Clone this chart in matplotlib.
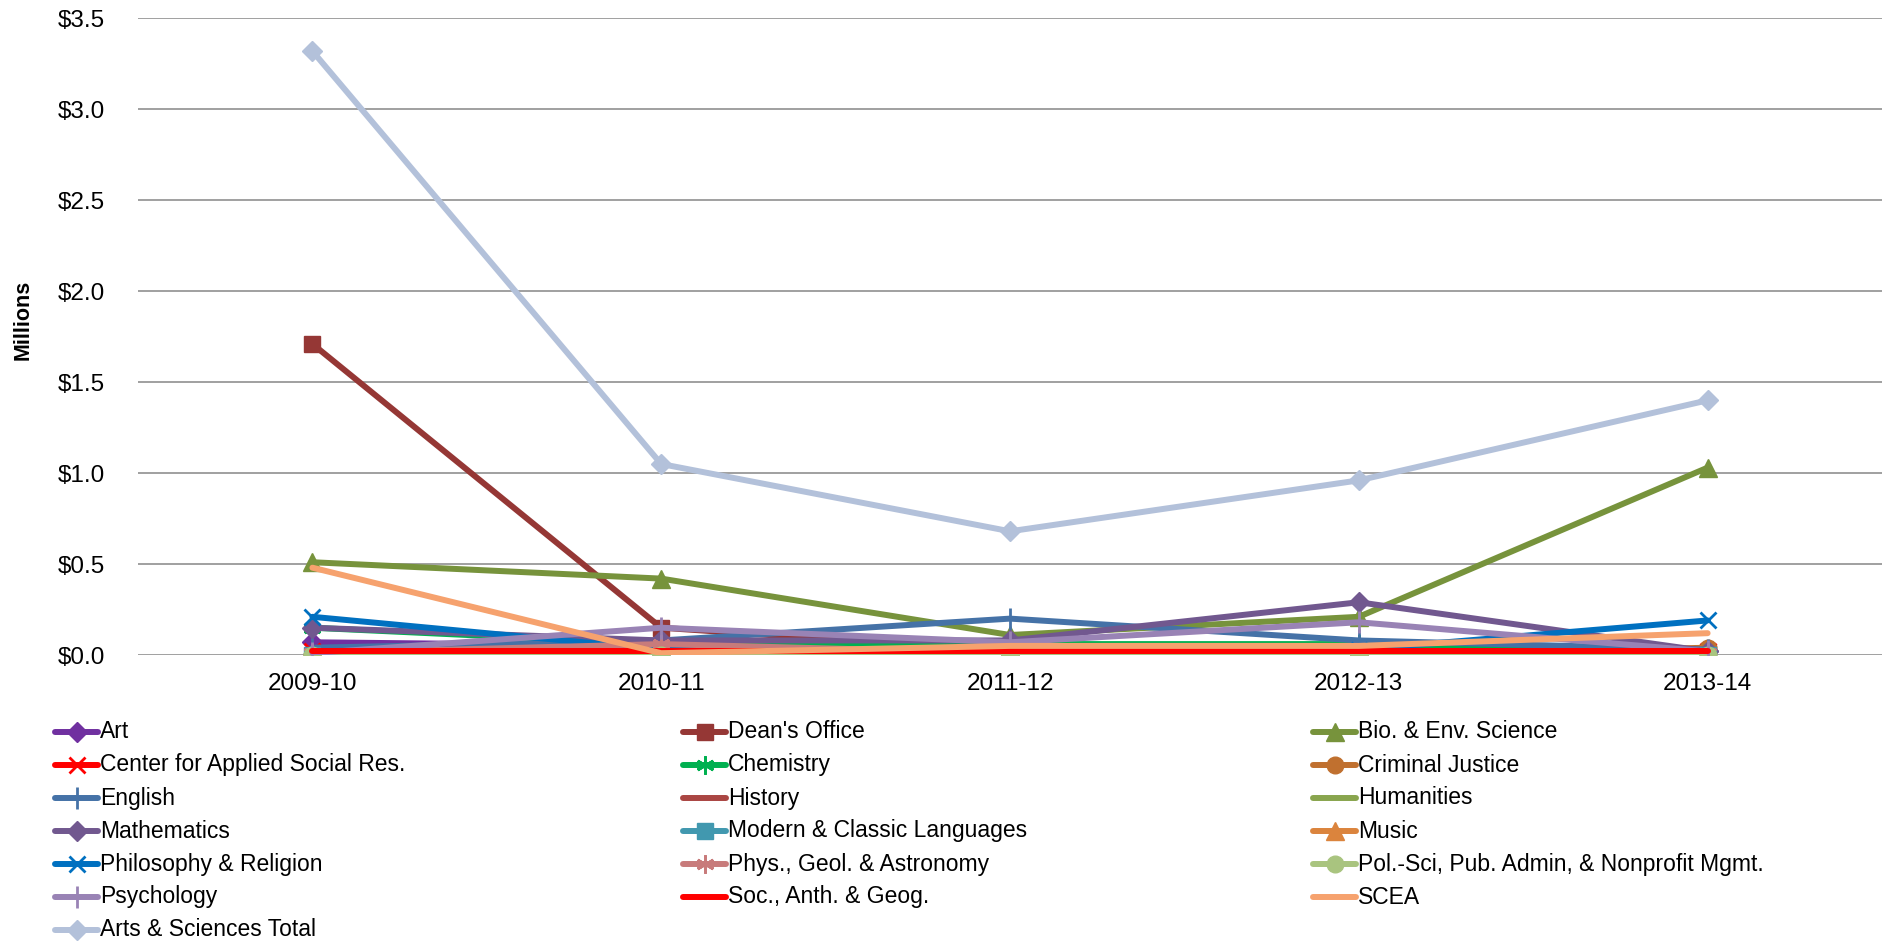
import matplotlib
matplotlib.use('Agg')
import matplotlib.pyplot as plt
from matplotlib.lines import Line2D
from matplotlib.ticker import FuncFormatter, MultipleLocator

plt.rcParams['font.family'] = ['Liberation Sans', 'DejaVu Sans']

# fiscal years on the category axis
years = ['2009-10', '2010-11', '2011-12', '2012-13', '2013-14']

# values in $ millions
art         = [0.07, 0.05, 0.03, 0.03, 0.02]
deans       = [1.71, 0.15, 0.02, 0.01, 0.01]
bio_env     = [0.51, 0.42, 0.11, 0.21, 1.03]
casr        = [0.02, 0.02, 0.02, 0.02, 0.02]
chemistry   = [0.15, 0.06, 0.06, 0.06, 0.03]
crim_just   = [0.00, 0.00, 0.00, 0.00, 0.04]
english     = [0.04, 0.08, 0.20, 0.08, 0.03]
history     = [0.01, 0.01, 0.01, 0.01, 0.01]
humanities  = [0.00, 0.00, 0.01, 0.02, 0.02]
mathematics = [0.15, 0.08, 0.08, 0.29, 0.02]
mod_lang    = [0.00, 0.00, 0.00, 0.00, 0.00]
music       = [0.00, 0.00, 0.00, 0.00, 0.00]
philosophy  = [0.21, 0.03, 0.02, 0.03, 0.19]
phys_geol   = [0.01, 0.06, 0.01, 0.01, 0.01]
pol_sci     = [0.00, 0.00, 0.00, 0.00, 0.00]
psychology  = [0.01, 0.15, 0.07, 0.18, 0.02]
soc_anth    = [0.02, 0.02, 0.02, 0.02, 0.02]
scea        = [0.48, 0.01, 0.05, 0.05, 0.12]
as_total    = [3.32, 1.05, 0.68, 0.96, 1.40]

# (label, values, color, marker, marker size)
series = [
    ('Art', art, '#7030A0', 'D', 10),
    ("Dean's Office", deans, '#953735', 's', 11),
    ('Bio. & Env. Science', bio_env, '#77933C', '^', 13),
    ('Center for Applied Social Res.', casr, '#FF0000', 'x', 12),
    ('Chemistry', chemistry, '#00B050', (6, 2, 0), 13),
    ('Criminal Justice', crim_just, '#C0702F', 'o', 12),
    ('English', english, '#4572A7', '|', 16),
    ('History', history, '#AA4643', None, 0),
    ('Humanities', humanities, '#89A54E', None, 0),
    ('Mathematics', mathematics, '#71588F', 'D', 10),
    ('Modern & Classic Languages', mod_lang, '#4198AF', 's', 11),
    ('Music', music, '#DB843D', '^', 13),
    ('Philosophy & Religion', philosophy, '#0070C0', 'x', 12),
    ('Phys., Geol. & Astronomy', phys_geol, '#C87B7B', (6, 2, 0), 13),
    ('Pol.-Sci, Pub. Admin, & Nonprofit Mgmt.', pol_sci, '#A9C47F', 'o', 12),
    ('Psychology', psychology, '#9983B5', '|', 16),
    ('Soc., Anth. & Geog.', soc_anth, '#FF0000', None, 0),
    ('SCEA', scea, '#F6A26E', None, 0),
    ('Arts & Sciences Total', as_total, '#B3C1DA', 'D', 10),
]

fig = plt.figure(figsize=(18.93, 9.43), dpi=100)
ax = fig.add_axes([0.0729, 0.3054, 0.9213, 0.6752])

x = list(range(len(years)))
for lab, vals, col, mk, ms in series:
    thin = mk in ('x', '|') or isinstance(mk, tuple)
    ax.plot(x, vals, color=col, lw=4.3, marker=mk, ms=ms,
            mew=2 if thin else 1, mec=col, mfc=col, solid_capstyle='round',
            label=lab)

ax.set_xlim(-0.5, len(years) - 0.5)
ax.set_ylim(0, 3.5)
ax.yaxis.set_major_locator(MultipleLocator(0.5))
ax.yaxis.set_major_formatter(FuncFormatter(lambda v, p: '$%.1f' % v))
ax.set_xticks(x)
ax.set_xticklabels(years)
ax.tick_params(axis='y', length=0, pad=24, labelsize=17.5)
ax.tick_params(axis='x', length=0, pad=13, labelsize=17.5)
ax.grid(axis='y', color='#868686', lw=1.1)
ax.set_axisbelow(True)
for s in ax.spines.values():
    s.set_visible(False)

fig.text(0.0122, 0.661, 'Millions', rotation=90, fontsize=15.5, fontweight='bold',
         ha='center', va='center')

# legend: three columns, filled row by row like the Excel legend
col_x = [55, 683, 1313]
row_y0, row_dy = 732, 33
W, H = 1893.0, 943.0
for i, (lab, vals, col, mk, ms) in enumerate(series):
    r, c = divmod(i, 3)
    x0 = col_x[c]
    yy = 1 - (row_y0 + r * row_dy) / H
    thin = mk in ('x', '|') or isinstance(mk, tuple)
    fig.add_artist(Line2D([x0 / W, (x0 + 43) / W], [yy, yy], color=col, lw=4.3,
                          solid_capstyle='round'))
    if mk is not None:
        fig.add_artist(Line2D([(x0 + 21.5) / W], [yy], color=col, marker=mk, ms=ms,
                              mew=2 if thin else 1, mec=col, mfc=col, lw=0))
    fig.text((x0 + 45) / W, yy, lab, fontsize=16.5, va='center', ha='left')

fig.savefig('out.png', dpi=100)
